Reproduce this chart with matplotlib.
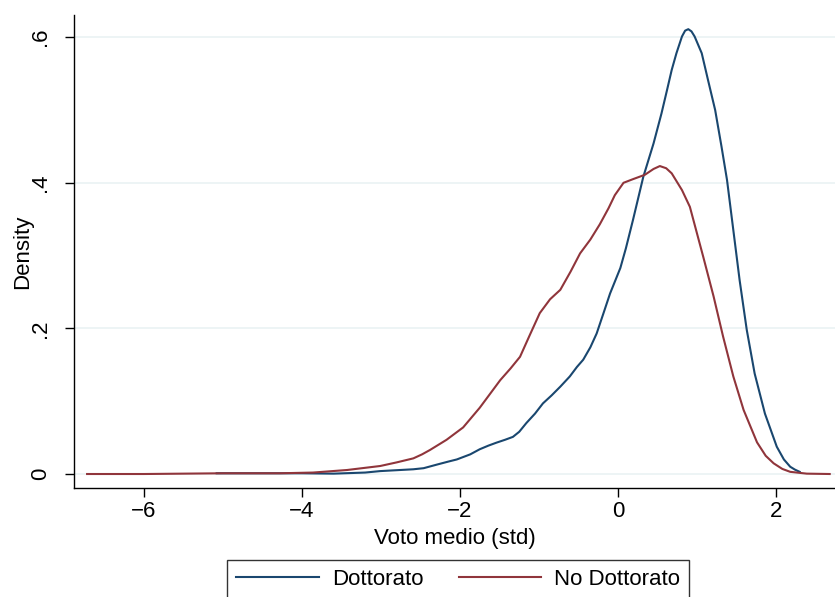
import matplotlib.pyplot as plt

plt.rcParams['font.family'] = ['Liberation Sans', 'DejaVu Sans']

# kernel density
dott_x = [-5.08, -4.5, -4.0, -3.6, -3.2, -3.01, -2.59, -2.46, -2.29, -2.15, -2.04, -1.87,
          -1.75, -1.64, -1.54, -1.43, -1.33, -1.25, -1.16, -1.05, -0.95, -0.84, -0.73, -0.61,
          -0.52, -0.44, -0.35, -0.27, -0.18, -0.10, 0.03, 0.10, 0.19, 0.32, 0.45, 0.55,
          0.62, 0.68, 0.74, 0.81, 0.85, 0.89, 0.93, 0.97, 1.06, 1.14, 1.23, 1.31,
          1.38, 1.46, 1.54, 1.63, 1.73, 1.86, 2.01, 2.10, 2.18, 2.24, 2.30]
dott_y = [0.001, 0.001, 0.001, 0.0005, 0.002, 0.004, 0.0065, 0.008, 0.013, 0.017, 0.020, 0.027,
          0.034, 0.039, 0.043, 0.047, 0.051, 0.058, 0.070, 0.083, 0.097, 0.108, 0.12, 0.134,
          0.147, 0.157, 0.174, 0.193, 0.222, 0.248, 0.283, 0.31, 0.349, 0.408, 0.454, 0.495,
          0.527, 0.555, 0.578, 0.601, 0.609, 0.611, 0.608, 0.601, 0.578, 0.541, 0.50, 0.45,
          0.404, 0.335, 0.266, 0.198, 0.138, 0.083, 0.0375, 0.020, 0.010, 0.006, 0.003]

nodott_x = [-6.72, -6.0, -5.0, -4.28, -3.86, -3.43, -3.01, -2.80, -2.59, -2.48, -2.38, -2.17,
            -1.96, -1.75, -1.62, -1.49, -1.36, -1.24, -1.12, -0.99, -0.86, -0.73, -0.60, -0.48,
            -0.35, -0.23, -0.12, -0.04, 0.07, 0.19, 0.34, 0.45, 0.53, 0.61, 0.68, 0.81,
            0.91, 1.08, 1.21, 1.33, 1.46, 1.59, 1.76, 1.87, 1.97, 2.08, 2.18, 2.39, 2.68]
nodott_y = [0.0, 0.0, 0.001, 0.001, 0.002, 0.0055, 0.011, 0.016, 0.0215, 0.027, 0.033, 0.047,
            0.064, 0.091, 0.110, 0.129, 0.145, 0.161, 0.19, 0.221, 0.24, 0.253, 0.278, 0.303,
            0.322, 0.343, 0.365, 0.383, 0.40, 0.405, 0.411, 0.419, 0.423, 0.42, 0.413, 0.39,
            0.367, 0.298, 0.244, 0.189, 0.134, 0.088, 0.0435, 0.025, 0.0147, 0.007, 0.003, 0.0005, 0.0]

yticks = [0, 0.2, 0.4, 0.6]
ylabels = ['0', '.2', '.4', '.6']
xticks = [-6, -4, -2, 0, 2]

fig = plt.figure(figsize=(8.35, 5.97), dpi=100)
ax = fig.add_axes([0.0886, 0.1826, 0.9114, 0.7923])

ax.plot(dott_x, dott_y, color='#1a476f', lw=1.5, label='Dottorato')
ax.plot(nodott_x, nodott_y, color='#90353b', lw=1.5, label='No Dottorato')

ax.set_xlim(-6.886, 2.747)
ax.set_ylim(-0.0192, 0.6305)
ax.set_xticks(xticks)
ax.set_xticklabels(['\u22126', '\u22124', '\u22122', '0', '2'])
ax.set_yticks(yticks)
ax.set_yticklabels(ylabels, rotation=90, va='center')
ax.grid(axis='y', color='#eaf2f3', lw=1.2)
ax.set_axisbelow(True)
for s in ['top', 'right']:
    ax.spines[s].set_visible(False)
for s in ['left', 'bottom']:
    ax.spines[s].set_linewidth(1.0)
ax.tick_params(axis='x', labelsize=16, length=6.5, width=1, pad=3)
ax.tick_params(axis='y', labelsize=16, length=6.5, width=1, pad=10)
ax.set_xlabel('Voto medio (std)', fontsize=16, labelpad=4)
ax.set_ylabel('Density', fontsize=16, labelpad=-2)

fig.legend(loc='upper center', bbox_to_anchor=(0.549, 0.062), ncol=2, fontsize=16,
           frameon=True, fancybox=False, edgecolor='#333333', handlelength=3.7,
           handletextpad=0.6, columnspacing=1.6, borderpad=0.4, borderaxespad=0,
           framealpha=1)

fig.savefig('out.png', dpi=100)
